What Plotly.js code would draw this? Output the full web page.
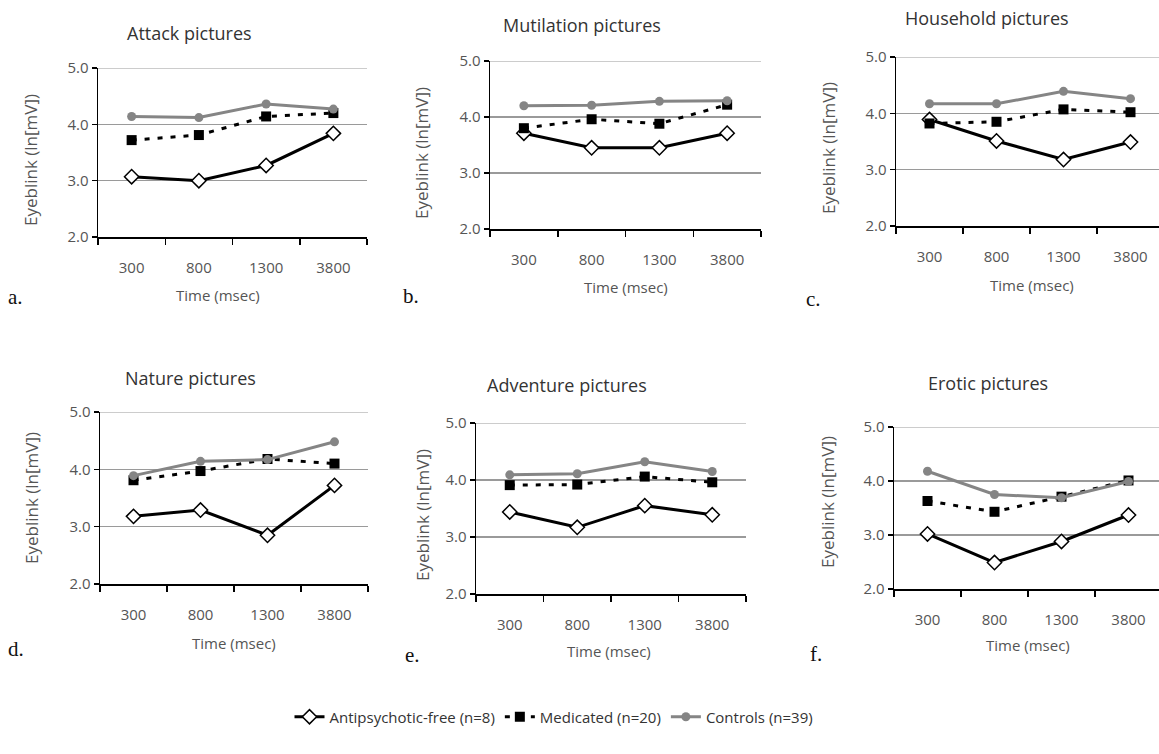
<!DOCTYPE html>
<html>
<head>
<meta charset="utf-8">
<script src="https://cdn.plot.ly/plotly-3.0.1.min.js"></script>
<style>html,body{margin:0;padding:0;background:#fff;}#chart{width:1159px;height:754px;}</style>
</head>
<body>
<div id="chart"></div>
<script>
// ---- data ----
const times = ['300', '800', '1300', '3800'];
const seriesNames = ['Antipsychotic-free (n=8)', 'Medicated (n=20)', 'Controls (n=39)'];
const panelTitles = ['Attack pictures', 'Mutilation pictures', 'Household pictures', 'Nature pictures', 'Adventure pictures', 'Erotic pictures'];
const panelLetters = ['a.', 'b.', 'c.', 'd.', 'e.', 'f.'];
const yTicks = [2, 3, 4, 5];

const attackFree = [3.07, 3.00, 3.27, 3.84];
const attackMed  = [3.72, 3.81, 4.14, 4.20];
const attackCtl  = [4.14, 4.12, 4.36, 4.27];

const mutilFree = [3.71, 3.45, 3.45, 3.71];
const mutilMed  = [3.80, 3.96, 3.88, 4.22];
const mutilCtl  = [4.20, 4.21, 4.28, 4.29];

const houseFree = [3.89, 3.51, 3.18, 3.49];
const houseMed  = [3.82, 3.85, 4.07, 4.02];
const houseCtl  = [4.17, 4.17, 4.39, 4.26];

const natureFree = [3.18, 3.29, 2.85, 3.72];
const natureMed  = [3.81, 3.97, 4.18, 4.10];
const natureCtl  = [3.89, 4.14, 4.17, 4.48];

const adventFree = [3.44, 3.17, 3.55, 3.39];
const adventMed  = [3.91, 3.92, 4.06, 3.96];
const adventCtl  = [4.09, 4.11, 4.32, 4.15];

const eroticFree = [3.02, 2.49, 2.88, 3.37];
const eroticMed  = [3.63, 3.43, 3.71, 4.01];
const eroticCtl  = [4.18, 3.75, 3.69, 3.99];

const panelData = [
  [attackFree, attackMed, attackCtl],
  [mutilFree, mutilMed, mutilCtl],
  [houseFree, houseMed, houseCtl],
  [natureFree, natureMed, natureCtl],
  [adventFree, adventMed, adventCtl],
  [eroticFree, eroticMed, eroticCtl]
];

// ---- layout geometry (pixels) ----
const W = 1159, H = 754;
const boxes = [
  {x0: 98,  x1: 367,  y0: 68,  y1: 237, xr: 3.5},
  {x0: 490, x1: 761,  y0: 61,  y1: 229, xr: 3.5},
  {x0: 896, x1: 1159, y0: 57,  y1: 226, xr: 3.5 - 5/67},
  {x0: 100, x1: 368,  y0: 412, y1: 584, xr: 3.5},
  {x0: 476, x1: 746,  y0: 423, y1: 594, xr: 3.5},
  {x0: 894, x1: 1159, y0: 427, y1: 589, xr: 3.5 - 3/67}
];
const titlePos = [[190,33],[582,25],[987,18],[191,378],[567,385],[988,383]];
const xTitlePos = [[218,295],[626,287],[1032,285],[234,643],[609,651],[1028,645]];
const yTitlePos = [[30,160],[422,153],[828,148],[32,498],[422,515],[828,502]];
const letterPos = [[15,297],[411,296],[813,299],[16,649],[412,655],[816,654]];

const px = v => v / W;
const py = v => 1 - v / H;

const styles = [
  {line: {color: '#000', width: 3, dash: 'solid'},
   marker: {symbol: 'diamond', size: 11, color: '#fff', line: {color: '#000', width: 1.5}}},
  {line: {color: '#000', width: 3, dash: '5px,8px'},
   marker: {symbol: 'square', size: 10, color: '#000', line: {color: '#000', width: 0}}},
  {line: {color: '#858585', width: 3, dash: 'solid'},
   marker: {symbol: 'circle', size: 9, color: '#858585', line: {color: '#858585', width: 0}}}
];

const FONT = '"Open Sans", Lato, sans-serif';
const traces = [];
const layout = {
  width: W, height: H,
  margin: {l: 0, r: 0, t: 0, b: 0},
  paper_bgcolor: '#fff', plot_bgcolor: '#fff',
  font: {family: FONT, color: '#444'},
  showlegend: true,
  legend: {
    orientation: 'h', x: px(554), y: py(717), xanchor: 'center', yanchor: 'middle',
    font: {family: FONT, size: 15, color: '#333'},
    itemwidth: 30, tracegroupgap: 0, bgcolor: 'rgba(0,0,0,0)'
  },
  annotations: [],
  shapes: []
};

boxes.forEach((b, i) => {
  const n = i + 1;
  const xa = 'x' + (n === 1 ? '' : n);
  const ya = 'y' + (n === 1 ? '' : n);
  const xkey = 'xaxis' + (n === 1 ? '' : n);
  const ykey = 'yaxis' + (n === 1 ? '' : n);
  panelData[i].forEach((vals, s) => {
    traces.push({
      type: 'scatter', mode: 'lines+markers',
      x: times, y: vals, xaxis: xa, yaxis: ya,
      name: seriesNames[s], legendgroup: 's' + s,
      showlegend: i === 0,
      line: styles[s].line, marker: styles[s].marker,
      cliponaxis: false, hoverinfo: 'skip'
    });
  });
  layout[xkey] = {
    domain: [px(b.x0), px(b.x1)], anchor: ya,
    type: 'category', range: [-0.5, b.xr],
    showgrid: false, zeroline: false,
    showline: true, linecolor: '#000', linewidth: 1.5,
    ticks: 'outside', tickson: 'boundaries', ticklen: 6, tickcolor: '#000', tickwidth: 1.5,
    ticklabelstandoff: 16,
    tickfont: {family: FONT, size: 15, color: '#555'},
    fixedrange: true
  };
  layout[ykey] = {
    domain: [py(b.y1), py(b.y0)], anchor: xa,
    range: [2, 5], tickvals: yTicks, tickformat: '.1f',
    showgrid: true, gridcolor: '#9a9a9a', gridwidth: 1.2,
    zeroline: false,
    showline: true, linecolor: '#000', linewidth: 1.5,
    ticks: 'outside', ticklen: 5, tickcolor: '#000', tickwidth: 1.5,
    tickfont: {family: FONT, size: 15, color: '#555'},
    fixedrange: true
  };
  // top gridline at the end of the range (Plotly skips grid lines at range ends)
  layout.shapes.push({
    type: 'line', xref: xa + ' domain', yref: ya,
    x0: 0, x1: 1, y0: 5, y1: 5,
    line: {color: '#9a9a9a', width: 1.2}, layer: 'below'
  });
  layout.annotations.push({
    text: panelTitles[i], xref: 'paper', yref: 'paper',
    x: px(titlePos[i][0]), y: py(titlePos[i][1]), xanchor: 'center', yanchor: 'middle',
    showarrow: false, font: {family: FONT, size: 18, color: '#333'}
  });
  layout.annotations.push({
    text: 'Time (msec)', xref: 'paper', yref: 'paper',
    x: px(xTitlePos[i][0]), y: py(xTitlePos[i][1]), xanchor: 'center', yanchor: 'middle',
    showarrow: false, font: {family: FONT, size: 15, color: '#555'}
  });
  layout.annotations.push({
    text: 'Eyeblink (ln[mV])', xref: 'paper', yref: 'paper', textangle: -90,
    x: px(yTitlePos[i][0]), y: py(yTitlePos[i][1]), xanchor: 'center', yanchor: 'middle',
    showarrow: false, font: {family: FONT, size: 17, color: '#555'}
  });
  layout.annotations.push({
    text: panelLetters[i], xref: 'paper', yref: 'paper',
    x: px(letterPos[i][0]), y: py(letterPos[i][1]), xanchor: 'center', yanchor: 'middle',
    showarrow: false, font: {family: '"Liberation Serif", "DejaVu Serif", serif', size: 21, color: '#111'}
  });
});

Plotly.newPlot('chart', traces, layout, {staticPlot: true, displayModeBar: false});
</script>
</body>
</html>
